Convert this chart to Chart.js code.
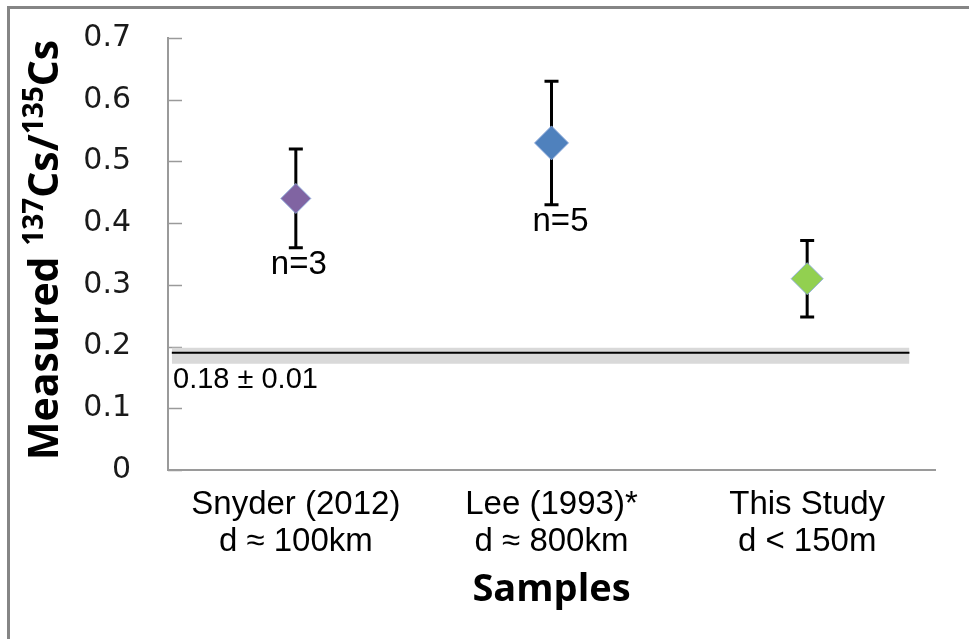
<!DOCTYPE html>
<html>
<head>
<meta charset="utf-8">
<title>Measured 137Cs/135Cs</title>
<script src="https://cdn.jsdelivr.net/npm/chart.js@4.4.1/dist/chart.umd.min.js"></script>
<style>
  html, body { margin: 0; padding: 0; background: #fff; overflow: hidden; }
  #wrap { position: relative; width: 969px; height: 639px; }
</style>
</head>
<body>
<div id="wrap"><canvas id="ratioChart"></canvas></div>
<script>
// x 轴样本（两行标签）
const sampleNames = ['Snyder (2012)', 'Lee (1993)*', 'This Study'];
const sampleDistances = ['d ≈ 100km', 'd ≈ 800km', 'd < 150m'];
const ratioValues = [0.44, 0.53, 0.31];
const ratioErrors = [0.08, 0.10, 0.062];
const sampleCounts = ['n=3', 'n=5', ''];
const yTickValues = [0, 0.1, 0.2, 0.3, 0.4, 0.5, 0.6, 0.7];

// 参考值 0.18 ± 0.01：黑线 + 灰色带
const refLabel = '0.18 ± 0.01';
const refLine = 0.19;
const refBand = [0.172, 0.198];
const refSpan = [-0.485, 2.4];

const pointColors = ['#8064A2', '#4F81BD', '#92D050'];
const pointSizes = [15, 17, 16];

const AXIS_GRAY = '#9a9a9a';
const SANS = "'Liberation Sans', Arial, sans-serif";
const BOLD = "'Open Sans', sans-serif";

const decorations = {
  id: 'decorations',

  beforeDraw(chart) {
    const ctx = chart.ctx;
    ctx.save();
    ctx.fillStyle = '#fff';
    ctx.fillRect(0, 0, chart.width, chart.height);
    // 外框：只有上边和左边在画面内
    ctx.fillStyle = '#858585';
    ctx.fillRect(7, 6, chart.width, 3);
    ctx.fillRect(7, 6, 3, chart.height);
    ctx.restore();
  },

  beforeDatasetsDraw(chart) {
    const { ctx, chartArea, scales: { y } } = chart;
    // y 轴刻度线朝内
    ctx.save();
    ctx.strokeStyle = AXIS_GRAY;
    ctx.lineWidth = 1.5;
    yTickValues.forEach(v => {
      const py = Math.round(y.getPixelForValue(v)) + 0.5;
      ctx.beginPath();
      ctx.moveTo(chartArea.left, py);
      ctx.lineTo(chartArea.left + 14, py);
      ctx.stroke();
    });
    ctx.restore();
  },

  beforeDatasetDraw(chart, args) {
    if (args.index !== 3) return;
    const { ctx, scales: { x, y } } = chart;
    // 误差棒画在菱形下面
    ctx.save();
    ctx.strokeStyle = '#000';
    ctx.lineWidth = 3;
    ratioValues.forEach((v, i) => {
      const px = x.getPixelForValue(i);
      const top = y.getPixelForValue(v + ratioErrors[i]);
      const bot = y.getPixelForValue(v - ratioErrors[i]);
      ctx.beginPath();
      ctx.moveTo(px, top); ctx.lineTo(px, bot);
      ctx.moveTo(px - 7, top); ctx.lineTo(px + 7, top);
      ctx.moveTo(px - 7, bot); ctx.lineTo(px + 7, bot);
      ctx.stroke();
    });
    ctx.restore();
  },

  afterDraw(chart) {
    const { ctx, chartArea, scales: { x, y } } = chart;
    ctx.save();
    ctx.fillStyle = '#000';
    ctx.textBaseline = 'middle';

    // n 标注
    ctx.font = `33px ${SANS}`;
    ctx.textAlign = 'center';
    sampleCounts.forEach((txt, i) => {
      if (!txt) return;
      const bot = y.getPixelForValue(ratioValues[i] - ratioErrors[i]);
      ctx.fillText(txt, x.getPixelForValue(i) + (i === 1 ? 9 : 3), bot + 17);
    });

    // 参考值标注
    ctx.font = `29px ${SANS}`;
    ctx.textAlign = 'left';
    ctx.fillText(refLabel, chartArea.left + 5, y.getPixelForValue(refLine) + 27);

    // x 轴标题
    ctx.font = `bold 38px ${BOLD}`;
    ctx.textAlign = 'center';
    ctx.fillText('Samples', (chartArea.left + chartArea.right) / 2, 590);

    // y 轴标题（带上标）
    const parts = [['Measured ', false], ['137', true], ['Cs/', false], ['135', true], ['Cs', false]];
    const mainFont = `bold 41px ${BOLD}`;
    const supFont = `bold 28px ${BOLD}`;
    const widths = parts.map(([t, sup]) => {
      ctx.font = sup ? supFont : mainFont;
      return ctx.measureText(t).width;
    });
    const total = widths.reduce((s, w) => s + w, 0);
    ctx.translate(58, 250);
    ctx.rotate(-Math.PI / 2);
    ctx.textAlign = 'left';
    ctx.textBaseline = 'alphabetic';
    let cx = -total / 2;
    parts.forEach(([t, sup], i) => {
      ctx.font = sup ? supFont : mainFont;
      ctx.fillText(t, cx, sup ? -15 : 0);
      cx += widths[i];
    });
    ctx.restore();
  }
};

const spanPoints = v => refSpan.map(x => ({ x, y: v }));

new Chart(document.getElementById('ratioChart'), {
  type: 'scatter',
  data: {
    datasets: [
      {
        data: spanPoints(refBand[1]),
        order: 3,
        showLine: true,
        borderWidth: 0,
        borderColor: 'rgba(0,0,0,0)',
        pointRadius: 0,
        backgroundColor: '#d9d9d9',
        fill: '+1'
      },
      {
        data: spanPoints(refBand[0]),
        order: 4,
        showLine: true,
        borderWidth: 0,
        borderColor: 'rgba(0,0,0,0)',
        pointRadius: 0,
        fill: false
      },
      {
        data: spanPoints(refLine),
        order: 2,
        showLine: true,
        borderColor: '#000',
        borderWidth: 2,
        pointRadius: 0,
        fill: false
      },
      {
        data: ratioValues.map((v, i) => ({ x: i, y: v })),
        order: 1,
        showLine: false,
        pointStyle: 'rectRot',
        pointRadius: pointSizes,
        pointHoverRadius: pointSizes,
        backgroundColor: pointColors,
        borderColor: 'rgba(140,170,220,0.9)',
        borderWidth: 1
      }
    ]
  },
  options: {
    responsive: true,
    maintainAspectRatio: false,
    animation: false,
    events: [],
    layout: { padding: { top: 38, right: 34, bottom: 0, left: 0 } },
    plugins: {
      legend: { display: false },
      tooltip: { enabled: false }
    },
    scales: {
      x: {
        type: 'linear',
        min: -0.5,
        max: 2.5,
        afterBuildTicks: scale => { scale.ticks = sampleNames.map((_, i) => ({ value: i })); },
        afterFit: scale => { scale.height = 169; },
        grid: { display: false, drawTicks: false },
        border: { display: true, color: AXIS_GRAY, width: 2 },
        ticks: {
          padding: 17,
          color: '#000',
          maxRotation: 0,
          autoSkip: false,
          font: { family: SANS, size: 33, lineHeight: 1.1 },
          callback: v => [sampleNames[v], sampleDistances[v]]
        }
      },
      y: {
        min: 0,
        max: 0.7,
        afterBuildTicks: scale => { scale.ticks = yTickValues.map(value => ({ value })); },
        afterFit: scale => {
          scale.width = 168;
          // 标签与轴线的间距不应把绘图区顶部往下推
          scale.paddingTop = 16;
        },
        grid: { display: false, drawTicks: false },
        border: { display: true, color: AXIS_GRAY, width: 2 },
        ticks: {
          padding: 37,
          color: '#1a1a1a',
          font: { family: "'DejaVu Sans', sans-serif", size: 30 },
          callback: v => (v === 0 ? '0' : v.toFixed(1))
        }
      }
    }
  },
  plugins: [decorations]
});
</script>
</body>
</html>
